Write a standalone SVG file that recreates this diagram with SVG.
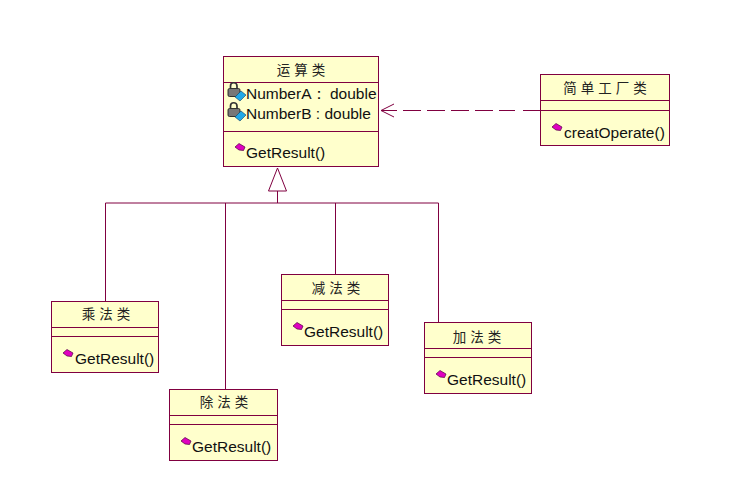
<svg xmlns="http://www.w3.org/2000/svg" width="743" height="484" viewBox="0 0 743 484">
<style>
.box{fill:#ffffcc;stroke:#800040;stroke-width:1}
.ln{stroke:#800040;stroke-width:1;fill:none}
.t{font-family:"Liberation Sans",Arial,sans-serif;font-size:15.500px;fill:#111}
.c{font-family:"Noto Sans CJK SC","Liberation Sans",sans-serif;font-size:13.500px;fill:#222;text-anchor:middle;letter-spacing:4px}
.m{fill:#e000c0;stroke:#500040;stroke-width:.7}
.k{fill:#777;stroke:#222;stroke-width:.9}
.b{fill:#20a8e8;stroke:#104060;stroke-width:.6}
</style>
<defs>
<g id="op"><path class="m" d="M-5 -2L-1 -5.500L5 -2L3.500 1.500L-1 1Z"/></g>
<g id="attr"><rect class="k" x="-8" y="-3.500" width="12" height="8" rx="1.500"/><path d="M-5.500 -3.500V-6a3.200 3.200 0 0 1 6.500 0V-3.500" fill="none" stroke="#333" stroke-width="1.700"/><path class="b" d="M-1 5L5 -1L10 3L4 9Z"/></g>
</defs>
<g id="connectors">
<path class="ln" d="M105.500 301V203H438.500V322M225.500 203V389M335.500 203V274M277.500 203V191"/>
<path class="ln" d="M277.500 168L268.500 191H286.500Z" style="fill:#fff"/>
<path class="ln" d="M540 110.500H523M515 110.500H499M493 110.500H475M469 110.500H451M445 110.500H427M421 110.500H403M397 110.500H381"/>
<path class="ln" d="M394 104L381 110.500L394 117"/>
</g>
<g id="yunsuan">
<rect class="box" x="223.500" y="56.500" width="155" height="110"/>
<path class="ln" d="M224 82.500H378M224 131.500H378"/>
<text class="c" x="303" y="75">运算类</text>
<use href="#attr" x="236" y="92"/><text class="t" x="246" y="99">NumberA：</text><text class="t" x="330" y="99">double</text>
<use href="#attr" x="236" y="112"/><text class="t" x="246" y="119">NumberB : double</text>
<use href="#op" x="240" y="149"/><text class="t" x="246" y="158">GetResult()</text>
</g>
<g id="factory">
<rect class="box" x="540.500" y="74.500" width="129" height="71"/>
<path class="ln" d="M541 100.500H669M541 110.500H669"/>
<text class="c" x="607" y="93">简单工厂类</text>
<use href="#op" x="557" y="129"/><text class="t" x="564" y="138">creatOperate()</text>
</g>
<g id="cheng">
<rect class="box" x="51.500" y="301.500" width="107" height="71"/>
<path class="ln" d="M52 327.500H158M52 336.500H158"/>
<text class="c" x="108" y="319">乘法类</text>
<use href="#op" x="68" y="355"/><text class="t" x="75" y="364">GetResult()</text>
</g>
<g id="chu">
<rect class="box" x="169.500" y="389.500" width="108" height="71"/>
<path class="ln" d="M170 415.500H277M170 424.500H277"/>
<text class="c" x="226" y="407">除法类</text>
<use href="#op" x="186" y="443"/><text class="t" x="192" y="452">GetResult()</text>
</g>
<g id="jian">
<rect class="box" x="281.500" y="274.500" width="107" height="71"/>
<path class="ln" d="M282 300.500H388M282 309.500H388"/>
<text class="c" x="338" y="293">减法类</text>
<use href="#op" x="298" y="328"/><text class="t" x="304" y="337">GetResult()</text>
</g>
<g id="jia">
<rect class="box" x="424.500" y="322.500" width="107" height="71"/>
<path class="ln" d="M425 348.500H531M425 357.500H531"/>
<text class="c" x="479" y="342">加法类</text>
<use href="#op" x="441" y="376"/><text class="t" x="447" y="385">GetResult()</text>
</g>
</svg>
